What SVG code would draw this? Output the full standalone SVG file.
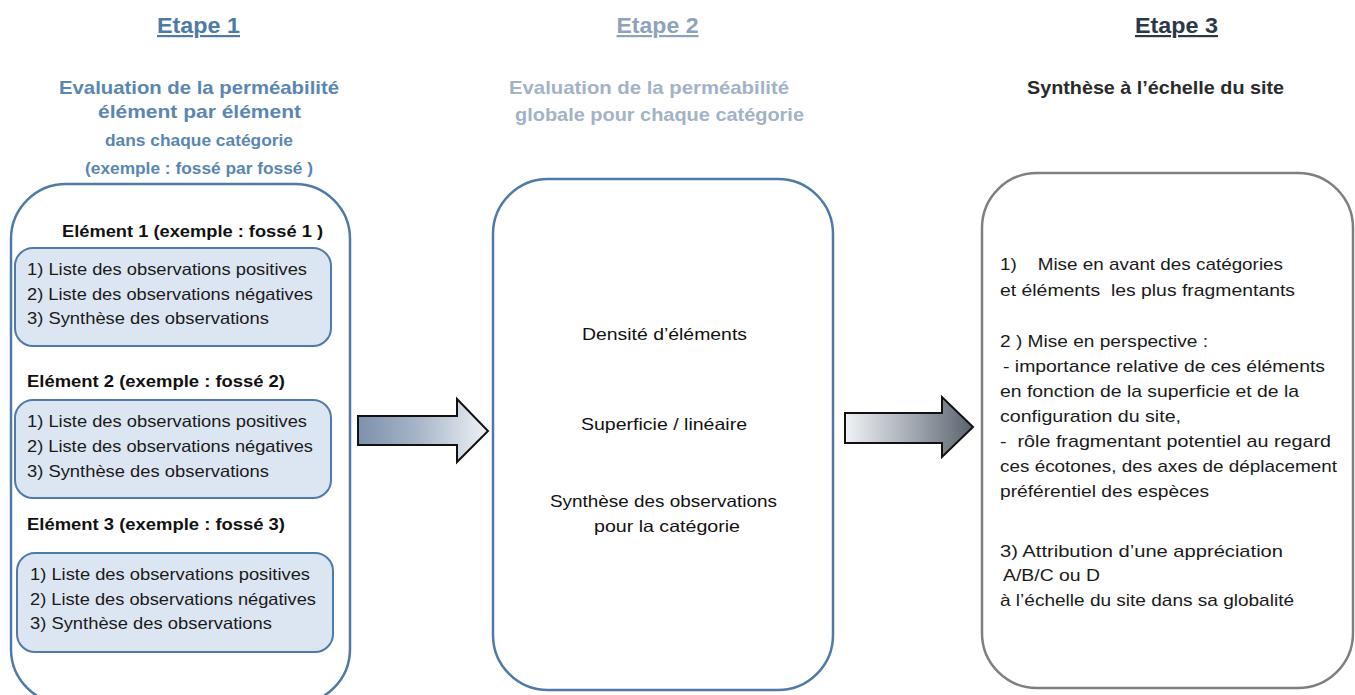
<svg xmlns="http://www.w3.org/2000/svg" width="1355" height="695" viewBox="0 0 1355 695">
<style>
text{font-family:"Liberation Sans",Arial,sans-serif}
.h{font-size:22px;font-weight:bold;text-decoration:underline}
.t1{font-size:18.5px;font-weight:bold;fill:#5a86b3}
.t2{font-size:18.5px;font-weight:bold;fill:#a3b2c6}
.el{font-size:17px;font-weight:bold;fill:#111}
.ln{font-size:16.5px;fill:#1a1a1a}
.c2{font-size:16.5px;fill:#111}
.c3{font-size:17px;fill:#1a1a1a}
.outer{fill:#fff;stroke:#4f7aa6;stroke-width:2.5}
.inner{fill:#dce6f2;stroke:#4f7aa6;stroke-width:2}
.arr{stroke:#111;stroke-width:2}
</style>
<defs>
<linearGradient id="g1" x1="0" y1="0" x2="1" y2="0">
<stop offset="0" stop-color="#7d91ab"/><stop offset="0.45" stop-color="#a6b4c7"/><stop offset="1" stop-color="#eef2f6"/>
</linearGradient>
<linearGradient id="g2" x1="0" y1="0" x2="1" y2="0">
<stop offset="0" stop-color="#f0f3f6"/><stop offset="0.5" stop-color="#a7adb5"/><stop offset="1" stop-color="#5a636e"/>
</linearGradient>
</defs>
<rect width="1355" height="695" fill="#fff"/>

<g id="headers">
<text class="h" x="198.5" y="33" text-anchor="middle" fill="#4e7aa6" textLength="83" lengthAdjust="spacingAndGlyphs">Etape 1</text>
<text class="t1" x="199" y="94" text-anchor="middle" textLength="280" lengthAdjust="spacingAndGlyphs">Evaluation de la perméabilité</text>
<text class="t1" x="199.5" y="118" text-anchor="middle" textLength="203" lengthAdjust="spacingAndGlyphs">élément par élément</text>
<text class="t1" x="199" y="146" text-anchor="middle" style="font-size:16.5px" textLength="188" lengthAdjust="spacingAndGlyphs">dans chaque catégorie</text>
<text class="t1" x="199" y="174" text-anchor="middle" style="font-size:16.5px" textLength="228" lengthAdjust="spacingAndGlyphs">(exemple : fossé par fossé )</text>

<text class="h" x="657.5" y="33" text-anchor="middle" fill="#8fa2bc" textLength="82" lengthAdjust="spacingAndGlyphs">Etape 2</text>
<text class="t2" x="509" y="94" textLength="280" lengthAdjust="spacingAndGlyphs">Evaluation de la perméabilité</text>
<text class="t2" x="515" y="121" textLength="289" lengthAdjust="spacingAndGlyphs">globale pour chaque catégorie</text>

<text class="h" x="1176.5" y="33" text-anchor="middle" fill="#2c3848" textLength="83" lengthAdjust="spacingAndGlyphs">Etape 3</text>
<text x="1027" y="94" style="font-size:18.5px;font-weight:bold;fill:#2a2a2a" textLength="257" lengthAdjust="spacingAndGlyphs">Synthèse à l’échelle du site</text>
</g>

<g id="etape1">
<rect class="outer" x="11" y="184" width="339" height="520" rx="55"/>
<text class="el" x="62" y="237" textLength="261" lengthAdjust="spacingAndGlyphs">Elément 1 (exemple : fossé 1 )</text>
<g id="e1">
<rect class="inner" x="15" y="248" width="316" height="98" rx="18"/>
<text class="ln" x="27" y="275" textLength="280" lengthAdjust="spacingAndGlyphs">1) Liste des observations positives</text>
<text class="ln" x="27" y="300" textLength="286" lengthAdjust="spacingAndGlyphs">2) Liste des observations négatives</text>
<text class="ln" x="27" y="324" textLength="242" lengthAdjust="spacingAndGlyphs">3) Synthèse des observations</text>
</g>
<text class="el" x="27" y="387" textLength="258" lengthAdjust="spacingAndGlyphs">Elément 2 (exemple : fossé 2)</text>
<g id="e2">
<rect class="inner" x="15" y="400" width="316" height="98" rx="18"/>
<text class="ln" x="27" y="427" textLength="280" lengthAdjust="spacingAndGlyphs">1) Liste des observations positives</text>
<text class="ln" x="27" y="452" textLength="286" lengthAdjust="spacingAndGlyphs">2) Liste des observations négatives</text>
<text class="ln" x="27" y="477" textLength="242" lengthAdjust="spacingAndGlyphs">3) Synthèse des observations</text>
</g>
<text class="el" x="27" y="530" textLength="258" lengthAdjust="spacingAndGlyphs">Elément 3 (exemple : fossé 3)</text>
<g id="e3">
<rect class="inner" x="17" y="553" width="316" height="99" rx="18"/>
<text class="ln" x="30" y="580" textLength="280" lengthAdjust="spacingAndGlyphs">1) Liste des observations positives</text>
<text class="ln" x="30" y="605" textLength="286" lengthAdjust="spacingAndGlyphs">2) Liste des observations négatives</text>
<text class="ln" x="30" y="629" textLength="242" lengthAdjust="spacingAndGlyphs">3) Synthèse des observations</text>
</g>
</g>

<g id="etape2">
<rect class="outer" x="493" y="179" width="340" height="511" rx="55"/>
<text class="c2" x="582" y="340" textLength="165" lengthAdjust="spacingAndGlyphs">Densité d’éléments</text>
<text class="c2" x="581" y="430" textLength="166" lengthAdjust="spacingAndGlyphs">Superficie / linéaire</text>
<text class="c2" x="550" y="507" textLength="227" lengthAdjust="spacingAndGlyphs">Synthèse des observations</text>
<text class="c2" x="594" y="532" textLength="146" lengthAdjust="spacingAndGlyphs">pour la catégorie</text>
</g>

<g id="etape3">
<rect x="982" y="173" width="371" height="515" rx="55" fill="#fff" stroke="#7f7f7f" stroke-width="2.5"/>
<text class="c3" x="1000" y="270" textLength="283" lengthAdjust="spacingAndGlyphs" xml:space="preserve">1)    Mise en avant des catégories</text>
<text class="c3" x="1000" y="296" textLength="295" lengthAdjust="spacingAndGlyphs" xml:space="preserve">et éléments  les plus fragmentants</text>
<text class="c3" x="1000" y="347" textLength="208" lengthAdjust="spacingAndGlyphs">2 ) Mise en perspective :</text>
<text class="c3" x="1003" y="372" textLength="322" lengthAdjust="spacingAndGlyphs">- importance relative de ces éléments</text>
<text class="c3" x="1000" y="397" textLength="299" lengthAdjust="spacingAndGlyphs">en fonction de la superficie et de la</text>
<text class="c3" x="1000" y="422" textLength="181" lengthAdjust="spacingAndGlyphs">configuration du site,</text>
<text class="c3" x="1000" y="447" textLength="331" lengthAdjust="spacingAndGlyphs" xml:space="preserve">-  rôle fragmentant potentiel au regard</text>
<text class="c3" x="1000" y="472" textLength="337" lengthAdjust="spacingAndGlyphs">ces écotones, des axes de déplacement</text>
<text class="c3" x="1000" y="497" textLength="209" lengthAdjust="spacingAndGlyphs">préférentiel des espèces</text>
<text class="c3" x="1000" y="557" textLength="283" lengthAdjust="spacingAndGlyphs">3) Attribution d’une appréciation</text>
<text class="c3" x="1003" y="581" textLength="97" lengthAdjust="spacingAndGlyphs">A/B/C ou D</text>
<text class="c3" x="1000" y="606" textLength="294" lengthAdjust="spacingAndGlyphs">à l’échelle du site dans sa globalité</text>
</g>

<g id="connectors">
<path class="arr" fill="url(#g1)" d="M358 416 H457 V399 L488 431 L457 462 V445 H358 Z"/>
<path class="arr" fill="url(#g2)" d="M845 413 H942 V397 L973 427 L942 457 V443 H845 Z"/>
</g>
</svg>
